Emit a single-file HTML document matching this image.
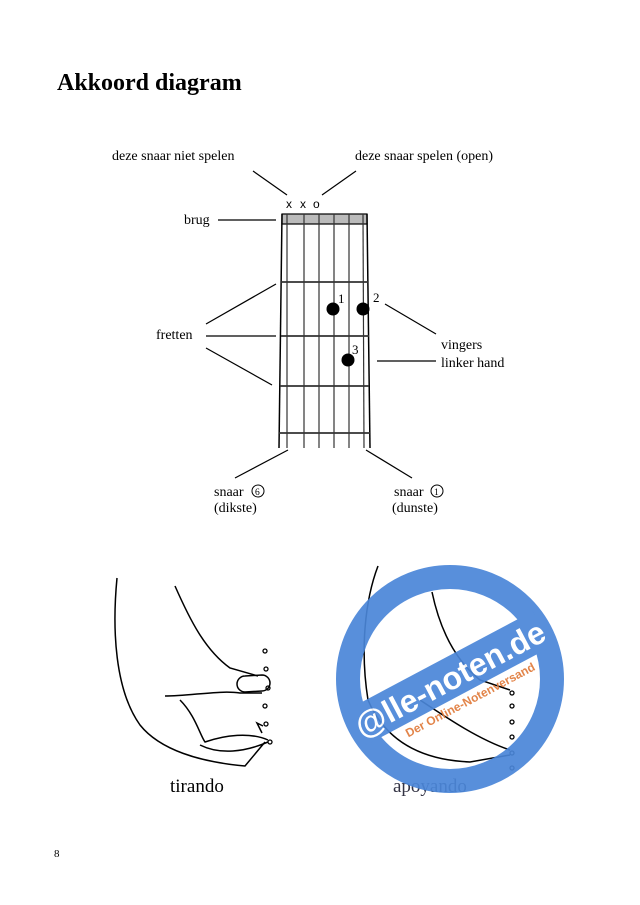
<!DOCTYPE html>
<html><head><meta charset="utf-8"><style>
html,body{margin:0;padding:0;background:#fff;}
svg{display:block;}
</style></head><body>
<svg width="640" height="905" viewBox="0 0 640 905" xmlns="http://www.w3.org/2000/svg" font-family="Liberation Serif, serif">
<text x="57" y="90" font-size="24" font-weight="bold">Akkoord diagram</text>
<g font-size="14">
<text x="112" y="160">deze snaar niet spelen</text>
<text x="355" y="160">deze snaar spelen (open)</text>
<text x="184" y="224">brug</text>
<text x="156" y="339">fretten</text>
<text x="441" y="349">vingers</text>
<text x="441" y="367">linker hand</text>
<text x="214" y="496">snaar</text>
<text x="214" y="512">(dikste)</text>
<text x="394" y="496">snaar</text>
<text x="392" y="512">(dunste)</text>
<text x="338" y="303" font-size="13">1</text>
<text x="373" y="302" font-size="13">2</text>
<text x="352" y="354" font-size="13">3</text>
<text x="54" y="857" font-size="11">8</text>
</g>
<g font-family="Liberation Sans, sans-serif" font-size="12">
<text x="286" y="208">x</text><text x="300" y="208">x</text><text x="313" y="208">o</text>
</g>
<g font-size="9.5">
<circle cx="258" cy="491" r="6" fill="none" stroke="#000" stroke-width="1"/><text x="255" y="495">6</text>
<circle cx="437" cy="491" r="6" fill="none" stroke="#000" stroke-width="1"/><text x="434" y="495">1</text>
</g>
<g stroke="#000" stroke-width="1.2" fill="none">
<line x1="253" y1="171" x2="287" y2="195"/>
<line x1="356" y1="171" x2="322" y2="195"/>
<line x1="218" y1="220" x2="276" y2="220"/>
<line x1="206" y1="324" x2="276" y2="284"/>
<line x1="206" y1="336" x2="276" y2="336"/>
<line x1="206" y1="348" x2="272" y2="385"/>
<line x1="385" y1="304" x2="436" y2="334"/>
<line x1="377" y1="361" x2="436" y2="361"/>
<line x1="235" y1="478" x2="288" y2="450"/>
<line x1="366" y1="450" x2="412" y2="478"/>
</g>
<g stroke="#000" fill="none">
<rect x="282" y="214" width="85" height="10" fill="#bbb" stroke-width="1.2"/>
<line x1="282" y1="214" x2="279" y2="448" stroke-width="1.5"/>
<line x1="367" y1="214" x2="370" y2="448" stroke-width="1.5"/>
<g stroke-width="1.2" stroke="#333">
<line x1="287" y1="214" x2="287" y2="448"/>
<line x1="304" y1="214" x2="304" y2="448"/>
<line x1="319" y1="214" x2="319" y2="448"/>
<line x1="334" y1="214" x2="334" y2="448"/>
<line x1="349" y1="214" x2="349" y2="448"/>
<line x1="363" y1="214" x2="364" y2="448"/>
</g>
<g stroke-width="1.8" stroke="#333">
<line x1="281" y1="282" x2="368" y2="282"/>
<line x1="281" y1="336" x2="369" y2="336"/>
<line x1="280" y1="386" x2="369" y2="386"/>
<line x1="279" y1="433" x2="370" y2="433"/>
</g>
</g>
<circle cx="333" cy="309" r="6.5"/>
<circle cx="363" cy="309" r="6.5"/>
<circle cx="348" cy="360" r="6.5"/>
<g stroke="#000" stroke-width="1.5" fill="none">
<path d="M117 578 C112 630 115 690 140 725 C160 750 200 762 245 766 L265 742"/>
<path d="M175 586 C190 620 205 650 230 668 L258 676"/>
<path d="M245 676 a8 8 0 0 0 0 16 l17 -1 a8 8 0 0 0 0-16 z"/>
<path d="M165 696 C190 696 220 690 240 693 L262 693"/>
<path d="M180 700 C195 715 200 735 205 742 C225 735 250 732 268 740"/>
<path d="M200 745 C220 755 245 752 268 742"/>
<path d="M262 733 l-5 -10 l6 3"/>
</g>
<g fill="none" stroke="#000" stroke-width="1.3">
<circle cx="265" cy="651" r="2"/><circle cx="266" cy="669" r="2"/><circle cx="268" cy="688" r="2"/>
<circle cx="265" cy="706" r="2"/><circle cx="266" cy="724" r="2"/><circle cx="270" cy="742" r="2"/>
</g>
<text x="170" y="792" font-size="19">tirando</text>
<g stroke="#000" stroke-width="1.5" fill="none">
<path d="M378 566 C365 600 360 650 368 700 C385 740 420 760 470 762 L510 755"/>
<path d="M432 592 C440 630 455 660 480 680 L510 690"/>
<path d="M420 700 C450 720 480 740 510 750"/>
</g>
<g fill="none" stroke="#000" stroke-width="1.3">
<circle cx="512" cy="693" r="2"/><circle cx="512" cy="706" r="2"/><circle cx="512" cy="722" r="2"/>
<circle cx="512" cy="737" r="2"/><circle cx="512" cy="753" r="2"/><circle cx="512" cy="768" r="2"/>
</g>
<text x="393" y="792" font-size="19" fill="#334">apoyando</text>
<g opacity="0.92">
<circle cx="450" cy="679" r="102" fill="none" stroke="#4a86d8" stroke-width="24"/>
<g transform="rotate(-28 450 679)">
<rect x="345" y="658" width="210" height="40" fill="#4a86d8"/>
<text x="450" y="690" text-anchor="middle" font-family="Liberation Sans, sans-serif" font-weight="bold" font-size="32" fill="#fff">@lle-noten.de</text>
<text x="458" y="711" text-anchor="middle" font-family="Liberation Sans, sans-serif" font-weight="bold" font-size="12" fill="#e07a3a">Der Online-Notenversand</text>
</g>
</g>
</svg>
</body></html>
